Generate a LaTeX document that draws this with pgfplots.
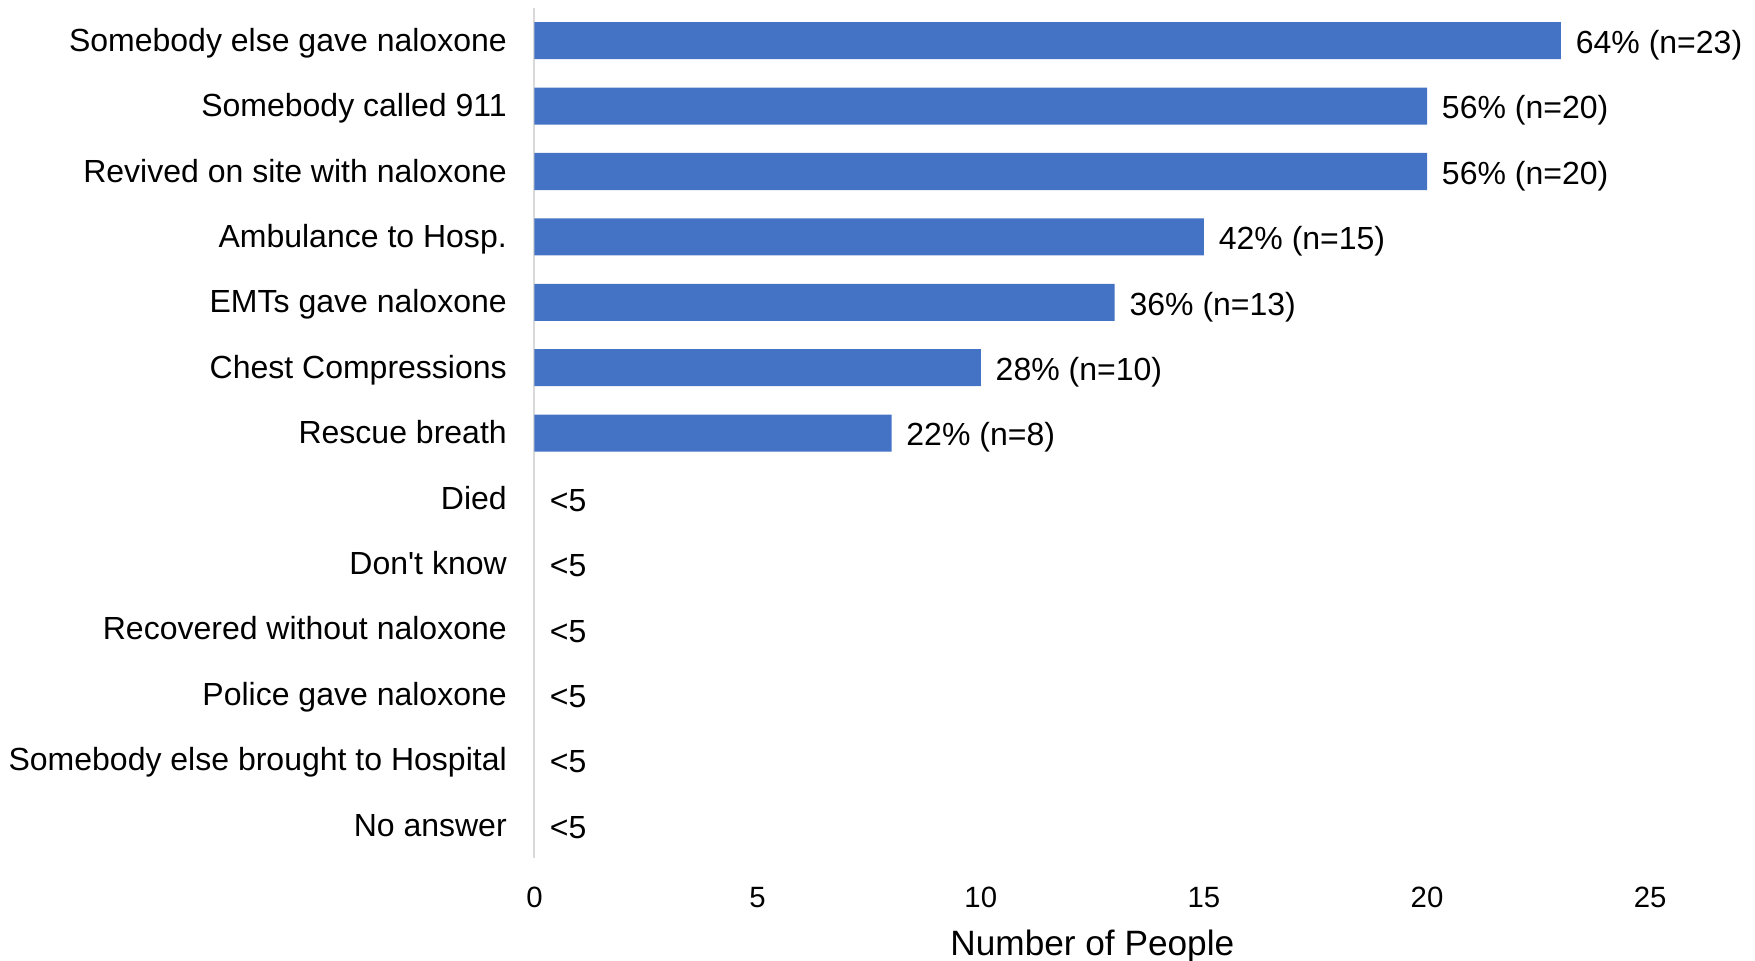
\documentclass[border=0pt]{standalone}
\usepackage{fontspec}
\setmainfont{Liberation Sans}
\usepackage{pgfplots}
\usepackage{pgfplotstable}
\pgfplotsset{compat=1.18}

\definecolor{barblue}{HTML}{4472C4}
\definecolor{axisgray}{HTML}{D9D9D9}

% Outcomes of the overdose event with a known count; position 12 is the top row
\pgfplotstableread[col sep=comma]{
pos,people,label
12,23,64\% (n=23)
11,20,56\% (n=20)
10,20,56\% (n=20)
9,15,42\% (n=15)
8,13,36\% (n=13)
7,10,28\% (n=10)
6,8,22\% (n=8)
}\counted

% Outcomes reported by fewer than five people (no bar drawn)
\pgfplotstableread[col sep=comma]{
pos,people,label
5,0,<5
4,0,<5
3,0,<5
2,0,<5
1,0,<5
0,0,<5
}\suppressed

\begin{document}
\begin{tikzpicture}
\begin{axis}[
  scale only axis,
  width=418.3pt, height=318.75pt,
  xmin=0, xmax=25, ymin=-0.5, ymax=12.5,
  xtick={0,5,10,15,20,25},
  ytick={0,...,12},
  yticklabels={No answer,Somebody else brought to Hospital,Police gave naloxone,Recovered without naloxone,Don\textquotesingle t know,Died,Rescue breath,Chest Compressions,EMTs gave naloxone,Ambulance to Hosp.,Revived on site with naloxone,Somebody called 911,Somebody else gave naloxone},
  axis lines*=left,
  x axis line style={draw=none},
  y axis line style={draw=axisgray, line width=0.75pt},
  major tick length=0pt,
  tick style={draw=none},
  /pgf/number format/assume math mode=true,
  xticklabel style={font=\fontsize{11}{13}\selectfont, anchor=base, inner sep=0pt, yshift=-18.4pt},
  yticklabel style={font=\fontsize{12}{14}\selectfont, anchor=base east, inner sep=0pt, xshift=-10.2pt, yshift=-4.0pt},
  xlabel={Number of People},
  xlabel style={at={(axis description cs:0.5,0)}, anchor=base, inner sep=0pt, yshift=-36.3pt, font=\fontsize{13.2}{15}\selectfont},
  clip=false,
  every node near coord/.append style={font=\fontsize{12}{14}\selectfont, text=black, anchor=base west, inner sep=0pt, yshift=-4.8pt},
]
\addplot[xbar, fill=barblue, draw=none, bar width=0.566,
  point meta=explicit symbolic,
  nodes near coords,
  every node near coord/.append style={xshift=5.4pt}]
  table[x=people, y=pos, meta=label] {\counted};
\addplot[draw=none, mark=none,
  point meta=explicit symbolic,
  nodes near coords,
  every node near coord/.append style={xshift=5.6pt}]
  table[x=people, y=pos, meta=label] {\suppressed};
\end{axis}
\pgfresetboundingbox
\useasboundingbox (-200.4pt,-38.25pt) rectangle (457.6pt,321.75pt);
\end{tikzpicture}
\end{document}
